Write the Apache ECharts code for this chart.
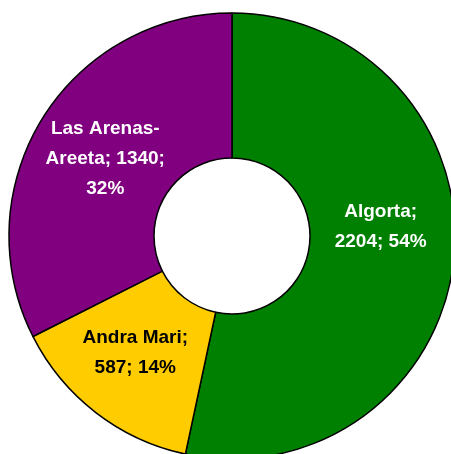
<!DOCTYPE html>
<html>
<head>
<meta charset="utf-8">
<script src="https://cdn.jsdelivr.net/npm/echarts@6/dist/echarts.min.js"></script>
<style>
  html, body { margin: 0; padding: 0; background: #fff; }
  #chart { width: 451px; height: 454px; }
</style>
</head>
<body>
<div id="chart"></div>
<script>
// 各区数据
const names = ['Algorta', 'Andra Mari', 'Las Arenas-Areeta']
const values = [2204, 587, 1340]
const percents = [54, 14, 32] // 图上标注的百分比
const colors = ['#008000', '#FFCC00', '#800080']
const labelColors = ['#fff', '#000', '#fff']

const labelText = [
  names[0] + ';\n' + values[0] + '; ' + percents[0] + '%',
  names[1] + ';\n' + values[1] + '; ' + percents[1] + '%',
  'Las Arenas-\nAreeta; ' + values[2] + ';\n' + percents[2] + '%'
]
// 标签微调偏移
const labelShift = [[-4, -25], [-3, -5], [4, 3]]

const myChart = echarts.init(document.getElementById('chart'))
const option = {
  animation: false,
  series: [{
    type: 'pie',
    center: [232, 236],
    radius: [78, 223],
    startAngle: 90,
    clockwise: true,
    avoidLabelOverlap: false,
    itemStyle: {
      borderColor: '#000',
      borderWidth: 1.5
    },
    label: {
      show: true,
      position: 'inside',
      fontFamily: '"Liberation Sans", Arial, sans-serif',
      fontWeight: 'bold',
      fontSize: 19,
      lineHeight: 30,
      align: 'center',
      formatter: (p) => labelText[p.dataIndex]
    },
    labelLayout: (params) => {
      const s = labelShift[params.dataIndex]
      return { dx: s[0], dy: s[1] }
    },
    labelLine: { show: false },
    emphasis: { disabled: true },
    data: names.map((n, i) => ({
      name: n,
      value: values[i],
      itemStyle: { color: colors[i] },
      label: { color: labelColors[i] }
    }))
  }]
}
myChart.setOption(option)
</script>
</body>
</html>
